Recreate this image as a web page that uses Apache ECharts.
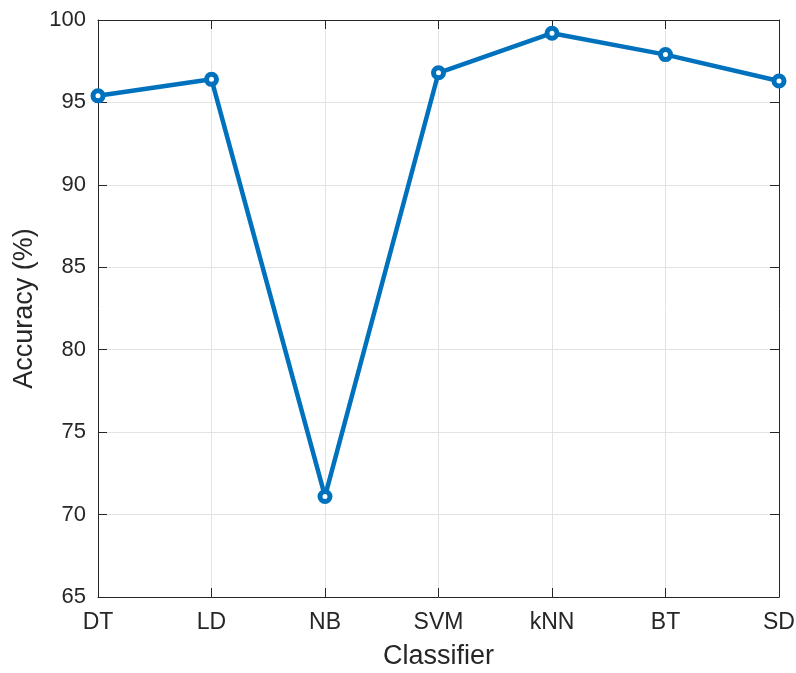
<!DOCTYPE html>
<html><head><meta charset="utf-8">
<script src="https://cdn.jsdelivr.net/npm/echarts@6/dist/echarts.min.js"></script>
<style>html,body{margin:0;padding:0;background:#fff}#c{width:796px;height:673px}</style>
</head><body><div id="c"></div>
<script>
const categories = ['DT','LD','NB','SVM','kNN','BT','SD'];
const accuracy = [95.4, 96.4, 71.1, 96.8, 99.2, 97.9, 96.3];
const yTicks = [65, 70, 75, 80, 85, 90, 95, 100];

const chart = echarts.init(document.getElementById('c'));
const font = 'Liberation Sans, Arial, sans-serif';
const axisLine = {show:true, lineStyle:{color:'#262626', width:1}};
chart.setOption({
  animation:false,
  grid:{left:98, right:17, top:20, bottom:76, containLabel:false, outerBoundsMode:'none'},
  xAxis:[{
    type:'category', data:categories, boundaryGap:false,
    name:'Classifier', nameLocation:'middle', nameGap:46,
    nameTextStyle:{fontFamily:font, fontSize:27, color:'#262626'},
    axisLine:axisLine,
    axisTick:{show:true, inside:true, length:9, lineStyle:{color:'#262626'}},
    axisLabel:{fontFamily:font, fontSize:23, color:'#262626', margin:14},
    splitLine:{show:true, lineStyle:{color:'#e3e3e3', width:1}}
  },{
    type:'category', data:categories, boundaryGap:false, position:'top',
    axisLine:axisLine,
    axisTick:{show:true, inside:true, length:9, lineStyle:{color:'#262626'}},
    axisLabel:{show:false}, splitLine:{show:false}
  }],
  yAxis:[{
    type:'value', min:yTicks[0], max:yTicks[yTicks.length-1], interval:5,
    name:'Accuracy (%)', nameLocation:'middle', nameGap:55,
    nameTextStyle:{fontFamily:font, fontSize:27, color:'#262626'},
    axisLine:axisLine,
    axisTick:{show:true, inside:true, length:9, lineStyle:{color:'#262626'}},
    axisLabel:{fontFamily:font, fontSize:22, color:'#262626', margin:12},
    splitLine:{show:true, lineStyle:{color:'#e3e3e3', width:1}}
  },{
    type:'value', min:yTicks[0], max:yTicks[yTicks.length-1], interval:5, position:'right',
    axisLine:axisLine,
    axisTick:{show:true, inside:true, length:9, lineStyle:{color:'#262626'}},
    axisLabel:{show:false}, splitLine:{show:false}
  }],
  series:[{
    type:'line', data:accuracy, xAxisIndex:0, yAxisIndex:0,
    symbol:'circle', symbolSize:10,
    lineStyle:{color:'#0072BD', width:4.5},
    itemStyle:{color:'#ffffff', borderColor:'#0072BD', borderWidth:5}
  }]
});
</script></body></html>
